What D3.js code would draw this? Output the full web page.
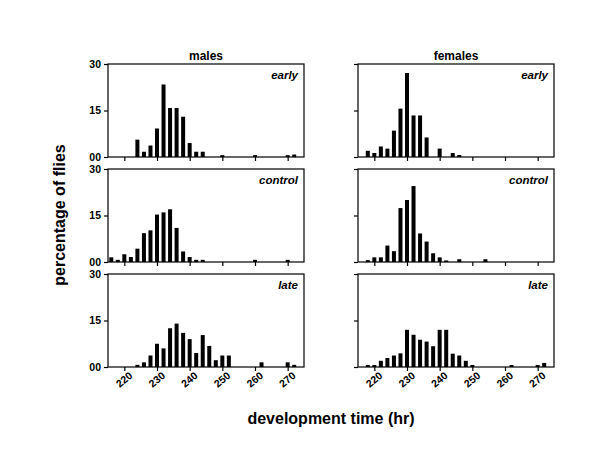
<!DOCTYPE html>
<html>
<head>
<meta charset="utf-8">
<script src="https://cdn.jsdelivr.net/npm/d3@7"></script>
<style>
  html, body { margin: 0; padding: 0; background: #fff; }
  svg text { font-family: Arial, "Liberation Sans", sans-serif; }
</style>
</head>
<body>
<svg id="chart" width="600" height="450"></svg>
<script>
// ---------------- data ----------------
const bins = [216,218,220,222,224,226,228,230,232,234,236,238,240,242,244,246,248,250,252,254,256,258,260,262,264,266,268,270,272];
const xTicks = [220,230,240,250,260,270];
const yTicks = [0,15,30];
const yTickLabels = ["00","15","30"];
const sexes = ["males","females"];
const treatments = ["early","control","late"];

//                  216 218 220 222 224 226 228 230  232  234  236  238 240 242 244 246 248 250 252 254 256 258 260 262 264 266 268 270 272
const malesEarly   = [0,  0,  0,  0,  5.6,1.7,3.7,9.2, 23.4,15.8,15.8,13, 4.5,1.7,1.7,0,  0,  0.6,0,  0,  0,  0,  0.6,0,  0,  0,  0,  0.6,0.8];
const malesControl = [1.5,0.7,2.5,1.6,4.3,9.3,10.2,15.3,16, 17, 11,  3.4,1.6,0.7,0.7,0,  0,  0,  0,  0,  0,  0,  0.7,0,  0,  0,  0,  0.7,0];
const malesLate    = [0,  0,  0,  0,  0.7,1.5,3.7,7.5, 6,   12.5,14,  11, 9,  4.5,10.3,6.8,2.2,3.7,3.7,0,  0,  0,  0,  1.5,0,  0,  0,  1.5,0.7];
const femalesEarly = [0,  2,  1.3,3.4,2.7,8.5,15.6,27.1,13.4,13.4,6.3, 0,  2.7,0,  1.3,0.65,0, 0,  0,  0,  0,  0,  0,  0,  0,  0,  0,  0,  0];
const femalesControl=[0,  0.6,1.5,1.5,5.3,3.5,17.4,20, 24.5,9.2, 6.6, 2.8,1.5,0.5,0,  0.9,0,  0,  0,  0.9,0,  0,  0,  0,  0,  0,  0,  0,  0];
const femalesLate  = [0,  0.65,0.65,2,2.9,3.7,4.4,12,  10.4,8.8, 8.2, 6.7,12, 12, 4.3,3.7,2,  0.65,0, 0,  0,  0,  0,  0.65,0, 0,  0,  0.65,1.3];

const series = {
  males:   { early: malesEarly,   control: malesControl,   late: malesLate },
  females: { early: femalesEarly, control: femalesControl, late: femalesLate }
};

// ---------------- layout ----------------
const svg = d3.select("#chart");
const colX = { males: 108, females: 358 };
const panelW = 196;
const rowTop = [64, 169, 274];
const panelH = 93;
const barW = 4;
const FONT = "Arial, 'Liberation Sans', sans-serif";

sexes.forEach(sex => {
  const x = d3.scaleLinear().domain([215, 275]).range([colX[sex], colX[sex] + panelW]);

  // column title
  svg.append("text")
    .attr("x", colX[sex] + panelW / 2)
    .attr("y", 60)
    .attr("text-anchor", "middle")
    .attr("font-size", "12px")
    .attr("font-weight", "bold")
    .text(sex);

  treatments.forEach((tr, ri) => {
    const top = rowTop[ri];
    const y = d3.scaleLinear().domain([0, 30]).range([top + panelH, top]);
    const g = svg.append("g");
    const vals = series[sex][tr];

    // bars
    g.selectAll("rect.bar")
      .data(bins.map((b, i) => ({ b, v: vals[i] })).filter(d => d.v > 0))
      .enter().append("rect")
      .attr("class", "bar")
      .attr("x", d => x(d.b) - barW / 2)
      .attr("width", barW)
      .attr("y", d => y(d.v))
      .attr("height", d => y(0) - y(d.v))
      .attr("fill", "#000");

    // frame
    g.append("rect")
      .attr("x", x.range()[0]).attr("y", top)
      .attr("width", panelW).attr("height", panelH)
      .attr("fill", "none").attr("stroke", "#000").attr("stroke-width", 1.2);

    // y axis
    const yAxis = d3.axisLeft(y).tickValues(yTicks).tickSize(4).tickPadding(3)
      .tickFormat((d, i) => sex === "males" ? yTickLabels[i] : "");
    const ya = g.append("g").attr("transform", `translate(${x.range()[0]},0)`).call(yAxis);
    ya.select(".domain").remove();
    ya.selectAll("line").attr("stroke-width", 1.2);
    ya.selectAll("text").attr("font-size", "10.5px").attr("font-weight", "bold")
      .attr("font-family", FONT);

    // x axis
    const xAxis = d3.axisBottom(x).tickValues(xTicks).tickSize(4).tickPadding(3)
      .tickFormat(d => ri === 2 ? d : "");
    const xa = g.append("g").attr("transform", `translate(0,${top + panelH})`).call(xAxis);
    xa.select(".domain").remove();
    xa.selectAll("line").attr("stroke-width", 1.2);
    xa.selectAll("text")
      .attr("font-size", "10.5px").attr("font-weight", "bold")
      .attr("font-family", FONT)
      .attr("text-anchor", "end")
      .attr("x", 0).attr("y", 0)
      .attr("dy", "0.35em")
      .attr("transform", "translate(6,7) rotate(-40)");

    // panel label
    g.append("text")
      .attr("x", x.range()[1] - 6)
      .attr("y", top + 15)
      .attr("text-anchor", "end")
      .attr("font-size", "11.5px")
      .attr("font-weight", "bold")
      .attr("font-style", "italic")
      .text(tr);
  });
});

// axis titles
svg.append("text")
  .attr("transform", "translate(65,215) rotate(-90)")
  .attr("text-anchor", "middle")
  .attr("font-size", "16px")
  .attr("font-weight", "bold")
  .text("percentage of flies");

svg.append("text")
  .attr("x", 331).attr("y", 424)
  .attr("text-anchor", "middle")
  .attr("font-size", "16px")
  .attr("font-weight", "bold")
  .text("development time (hr)");
</script>
</body>
</html>
